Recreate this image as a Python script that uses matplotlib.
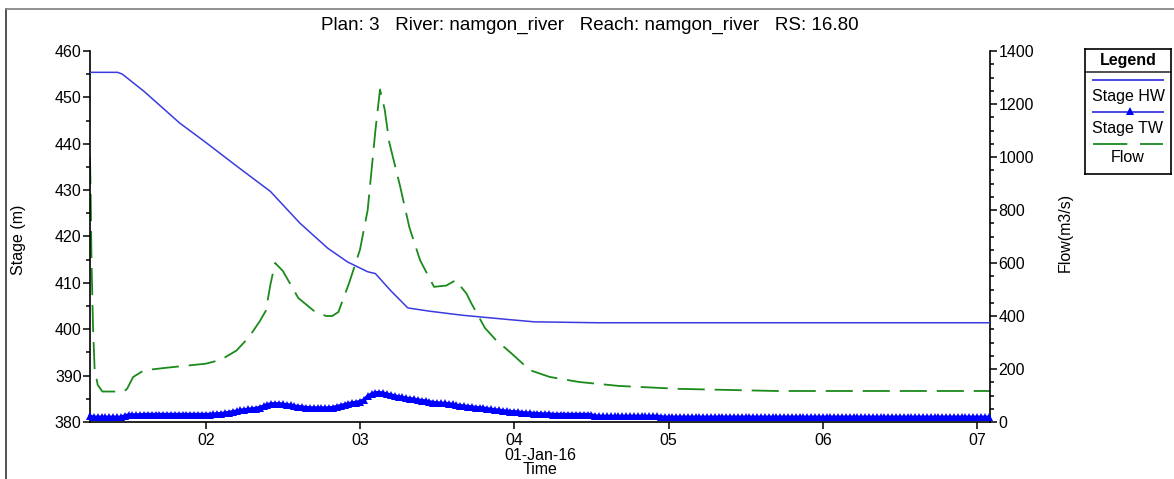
import matplotlib
matplotlib.use("Agg")
import matplotlib.pyplot as plt
from matplotlib.lines import Line2D
from matplotlib.ticker import MultipleLocator, FixedLocator
import numpy as np

plt.rcParams['font.family'] = ['Liberation Sans', 'DejaVu Sans']

W, H = 1174, 479

title = "Plan: 3   River: namgon_river   Reach: namgon_river   RS: 16.80"

# Stage HW (m), time in days of Jan-2016
hw_t = [1.25, 1.43, 1.46, 1.6, 1.83, 2.0, 2.2, 2.42, 2.61, 2.79, 2.92, 3.05, 3.1,
        3.2, 3.31, 3.45, 3.57, 3.67, 3.96, 4.13, 4.54, 5.0, 6.0, 7.084]
hw_stage = [455.4, 455.4, 455.0, 451.3, 444.5, 440.3, 435.2, 429.7, 422.9, 417.5,
            414.5, 412.4, 412.0, 408.3, 404.6, 403.9, 403.4, 403.0, 402.1, 401.6,
            401.4, 401.4, 401.4, 401.4]

# Stage TW (m), one value every 0.025 day starting 01 Jan 06:00
tw_start, tw_step = 1.25, 0.025
tw_stage = [
    # 01
    381.2, 381.0, 381.0, 381.0, 381.0, 381.0, 381.0, 381.0, 381.0, 381.3,
    381.5, 381.5, 381.5, 381.5, 381.6, 381.6, 381.6, 381.6, 381.6, 381.6,
    381.6, 381.6, 381.6, 381.6, 381.6, 381.6, 381.6, 381.6, 381.6, 381.6,
    # 02
    381.6, 381.6, 381.7, 381.7, 381.8, 381.9, 382.0, 382.2, 382.3, 382.5,
    382.6, 382.7, 382.8, 382.9, 383.1, 383.4, 383.7, 383.9, 383.9, 383.9,
    383.8, 383.7, 383.6, 383.4, 383.3, 383.2, 383.1, 383.0, 383.0, 383.0,
    383.0, 383.0, 383.0, 383.1, 383.3, 383.5, 383.7, 383.9, 384.1, 384.2,
    # 03
    384.4, 384.7, 385.5, 386.0, 386.3, 386.3, 386.2, 386.0, 385.8, 385.6,
    385.4, 385.3, 385.1, 385.0, 384.9, 384.7, 384.6, 384.5, 384.3, 384.2,
    384.1, 384.0, 384.0, 383.9, 383.8, 383.6, 383.5, 383.4, 383.3, 383.2,
    383.1, 383.0, 383.0, 382.8, 382.7, 382.6, 382.5, 382.4, 382.3, 382.2,
    # 04
    382.2, 382.1, 382.0, 381.9, 381.9, 381.8, 381.8, 381.7, 381.7, 381.7,
    381.6, 381.6, 381.6, 381.6, 381.6, 381.6, 381.6, 381.6, 381.6, 381.6,
    381.5, 381.3, 381.2, 381.2, 381.2, 381.2, 381.2, 381.2, 381.2, 381.2,
    381.2, 381.2, 381.2, 381.2, 381.2, 381.2, 381.2, 381.2, 381.1, 381.0,
    # 05
    381.0, 381.0, 381.0, 381.0, 381.0, 381.0, 381.0, 381.0, 381.0, 381.0,
    381.0, 381.0, 381.0, 381.0, 381.0, 381.0, 381.0, 381.0, 381.0, 381.0,
    381.0, 381.0, 381.0, 381.0, 381.0, 381.0, 381.0, 381.0, 381.0, 381.0,
    381.0, 381.0, 381.0, 381.0, 381.0, 381.0, 381.0, 381.0, 381.0, 381.0,
    # 06
    381.0, 381.0, 381.0, 381.0, 381.0, 381.0, 381.0, 381.0, 381.0, 381.0,
    381.0, 381.0, 381.0, 381.0, 381.0, 381.0, 381.0, 381.0, 381.0, 381.0,
    381.0, 381.0, 381.0, 381.0, 381.0, 381.0, 381.0, 381.0, 381.0, 381.0,
    381.0, 381.0, 381.0, 381.0, 381.0, 381.0, 381.0, 381.0, 381.0, 381.0,
    # 07
    381.0, 381.0, 381.0, 381.0,
]
tw_t = tw_start + tw_step * np.arange(len(tw_stage))

# Flow (m3/s)
flow_t = [1.25, 1.255, 1.26, 1.27, 1.28, 1.30, 1.33, 1.47, 1.49, 1.53, 1.6, 1.75,
          2.0, 2.1, 2.2, 2.28, 2.35, 2.39, 2.42, 2.45, 2.5, 2.6, 2.7, 2.78, 2.82,
          2.86, 2.93, 3.0, 3.05, 3.1, 3.13, 3.16, 3.19, 3.26, 3.32, 3.39, 3.48,
          3.56, 3.62, 3.69, 3.72, 3.81, 3.88, 3.98, 4.1, 4.23, 4.42, 4.68, 5.07,
          5.7, 7.084]
flow = [1000, 830, 600, 350, 200, 140, 115, 115, 125, 170, 195, 205,
        220, 235, 270, 320, 380, 420, 520, 600, 570, 468, 420, 400, 400,
        415, 525, 650, 800, 1100, 1255, 1180, 1055, 890, 735, 610, 510,
        515, 535, 485, 450, 355, 310, 260, 196, 170, 151, 136, 125,
        117, 117]

day_ticks = [2, 3, 4, 5, 6, 7]
day_labels = ['02', '03', '04', '05', '06', '07']

fs = 11.5

fig = plt.figure(figsize=(W / 100, H / 100), dpi=100)
ax = fig.add_axes([90 / W, 1 - 422 / H, 900 / W, 371 / H])
ax2 = ax.twinx()

ax.plot(hw_t, hw_stage, color='#3a3ae0', lw=1.1, zorder=3)
ax.plot(tw_t, tw_stage, color='#0000ff', lw=2.6, marker='^', ms=6,
        markeredgewidth=0, zorder=4, clip_on=False)
ax2.plot(flow_t, flow, color='#1a8a1a', lw=1.3, dashes=(15, 5.5))

ax.set_zorder(ax2.get_zorder() + 1)
ax.patch.set_visible(False)

ax.set_xlim(1.25, 7.084)
ax.set_ylim(380, 460)
ax2.set_ylim(0, 1400)

ax.xaxis.set_major_locator(FixedLocator(day_ticks))
ax.set_xticklabels(day_labels)
ax.yaxis.set_major_locator(MultipleLocator(10))
ax.yaxis.set_minor_locator(MultipleLocator(5))
ax2.yaxis.set_major_locator(MultipleLocator(200))
ax2.yaxis.set_minor_locator(MultipleLocator(50))

for a in (ax, ax2):
    a.spines['top'].set_visible(False)
    for s in a.spines.values():
        s.set_linewidth(1.2)
    a.tick_params(labelsize=fs, length=5, width=1.1, pad=1)
    a.tick_params(which='minor', length=3, width=1.1)
ax.spines['right'].set_visible(False)
ax2.spines['left'].set_visible(False)
ax2.spines['bottom'].set_visible(False)
ax.tick_params(axis='x', pad=3)

ax.set_xlabel('01-Jan-16\nTime', fontsize=fs, labelpad=0, linespacing=0.9)
ax.set_ylabel('Stage (m)', fontsize=fs)
ax.yaxis.set_label_coords((26 - 90) / 900, 0.49)
ax2.set_ylabel('Flow(m3/s)', fontsize=fs)
ax2.yaxis.set_label_coords((1058 - 90) / 900, 0.51)

fig.text(0.502, 1 - 25 / H, title, ha='center', va='center', fontsize=13.5)

# outer frame (left and top edges)
fig.add_artist(Line2D([6 / W, 6 / W], [0, 1 - 9 / H], color='#444444', lw=1.3))
fig.add_artist(Line2D([6 / W, 1], [1 - 9 / H, 1 - 9 / H], color='#888888', lw=1.3))

# legend panel, drawn in pixel units
lg = fig.add_axes([1085 / W, 1 - 174 / H, 86 / W, 125 / H])
lg.set_xlim(0, 86)
lg.set_ylim(125, 0)
lg.set_xticks([])
lg.set_yticks([])
for s in lg.spines.values():
    s.set_linewidth(1.2)
lg.text(43, 11, 'Legend', ha='center', va='center', fontsize=fs, fontweight='bold')
lg.plot([0, 86], [23, 23], color='#333333', lw=1.2)
lg.plot([8, 78], [31, 31], color='#3a3ae0', lw=1.3)
lg.text(43, 48, 'Stage HW', ha='center', va='center', fontsize=fs)
lg.plot([8, 78], [63, 63], color='#3a3ae0', lw=1.3)
lg.plot([45], [62], marker='^', color='#0000ff', ms=6, markeredgewidth=0)
lg.text(43, 79, 'Stage TW', ha='center', va='center', fontsize=fs)
lg.plot([8, 78], [95, 95], color='#1a8a1a', lw=1.3, dashes=(19, 7))
lg.text(43, 109, 'Flow', ha='center', va='center', fontsize=fs)

fig.savefig('out.png', dpi=100)
